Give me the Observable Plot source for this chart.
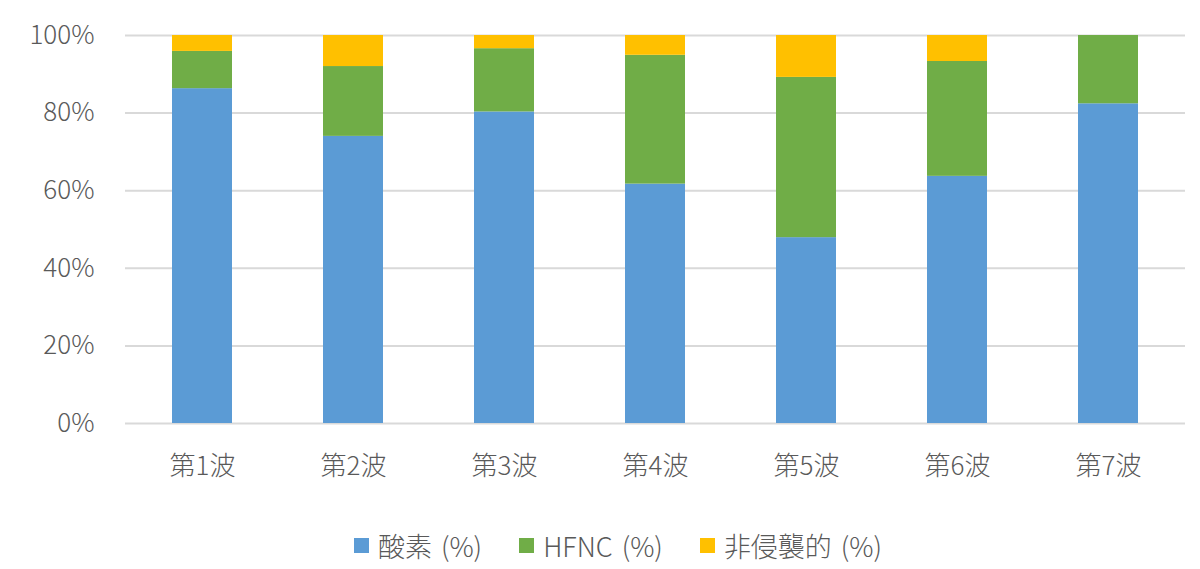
<!DOCTYPE html>
<html>
<head>
<meta charset="utf-8">
<script src="https://cdn.jsdelivr.net/npm/d3@7"></script>
<script src="https://cdn.jsdelivr.net/npm/@observablehq/plot@0.6"></script>
<style>
  html, body { margin: 0; padding: 0; background: #fff; }
  body { width: 1200px; height: 569px; overflow: hidden; font-family: "Noto Sans CJK JP", "Noto Sans", sans-serif; }
  #legend { display: flex; justify-content: center; align-items: center; gap: 37px; margin-top: 21px; padding-left: 36px; font-size: 27px; font-weight: 300; color: #595959; word-spacing: 3px; }
  .item { display: flex; align-items: center; gap: 9px; }
  .sw { width: 15px; height: 15px; display: inline-block; }
</style>
</head>
<body>
<div id="chart"></div>
<div id="legend"></div>
<script>
const waves = ["第1波", "第2波", "第3波", "第4波", "第5波", "第6波", "第7波"];
const seriesNames = ["酸素 (%)", "HFNC (%)", "非侵襲的 (%)"];
const seriesColors = ["#5b9bd5", "#70ad47", "#ffc000"];
const oxygen = [86.3, 74.0, 80.3, 61.7, 47.9, 63.7, 82.4];
const hfnc = [9.6, 18.0, 16.3, 33.2, 41.3, 29.6, 17.6];
const niv = [4.1, 8.0, 3.4, 5.1, 10.8, 6.7, 0];
const yTicks = [0, 0.2, 0.4, 0.6, 0.8, 1.0];

const values = [oxygen, hfnc, niv];
const data = [];
seriesNames.forEach((s, si) => {
  waves.forEach((w, wi) => data.push({wave: w, series: s, value: values[si][wi] / 100}));
});

const chart = Plot.plot({
  width: 1200,
  height: 505,
  marginLeft: 125,
  marginRight: 15,
  marginTop: 35,
  marginBottom: 82,
  style: {fontFamily: '"Noto Sans CJK JP", "Noto Sans", sans-serif', fontSize: "26px", fontWeight: 300, color: "#595959", background: "#fff"},
  x: {domain: waves, paddingInner: 0.6, paddingOuter: 0.3, label: null},
  y: {domain: [0, 1], label: null},
  color: {domain: seriesNames, range: seriesColors},
  marks: [
    Plot.gridY(yTicks, {stroke: "#d9d9d9", strokeOpacity: 1, strokeWidth: 2}),
    Plot.barY(data, {x: "wave", y: "value", fill: "series"}),
    Plot.axisY(yTicks, {tickSize: 0, tickPadding: 31, tickFormat: d => Math.round(d * 100) + "%", fontSize: 26, fill: "#595959"}),
    Plot.axisX({tickSize: 0, tickPadding: 33, fontSize: 26, fill: "#595959"})
  ]
});
document.getElementById("chart").appendChild(chart);

const legend = document.getElementById("legend");
seriesNames.forEach((s, i) => {
  const item = document.createElement("div");
  item.className = "item";
  const sw = document.createElement("span");
  sw.className = "sw";
  sw.style.background = seriesColors[i];
  const t = document.createElement("span");
  t.textContent = s;
  item.appendChild(sw);
  item.appendChild(t);
  legend.appendChild(item);
});
</script>
</body>
</html>
